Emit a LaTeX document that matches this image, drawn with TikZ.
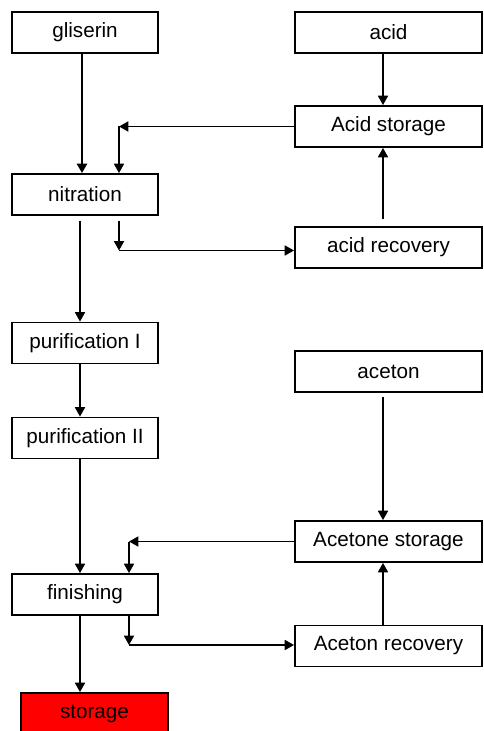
\documentclass[tikz,border=0pt]{standalone}
\usepackage{fontspec}
\setmainfont{Liberation Sans}
\usetikzlibrary{arrows.meta}
\begin{document}
\begin{tikzpicture}[x=0.75pt, y=-0.75pt,
    box/.style={draw, line width=1.4pt, inner sep=0pt,
        minimum width=109.5pt, minimum height=30.75pt,
        font=\fontsize{15.5}{18}\selectfont},
    wide/.style={minimum width=140.25pt},
    flow/.style={line width=1.2pt, -{Triangle[length=7pt, width=7.5pt]}}]
    \useasboundingbox (0,0) rectangle (483,731);
    % left column
    \node[box] (gliserin) at (85,32.5) {gliserin};
    \node[box] (nitration) at (85,194.5) {nitration};
    \node[box] (puri) at (85,343) {purification I};
    \node[box] (purii) at (85,438) {purification II};
    \node[box] (finishing) at (85,594.5) {finishing};
    \node[box, fill=red, minimum width=110.25pt] (storage) at (94.5,713.5) {storage};
    % right column
    \node[box, wide] (acid) at (388.5,32.5) {acid};
    \node[box, wide] (acidst) at (388.5,126.5) {Acid storage};
    \node[box, wide] (acidrec) at (388.5,247.5) {acid recovery};
    \node[box, wide] (aceton) at (388.5,371.5) {aceton};
    \node[box, wide] (acetst) at (388.5,541.5) {Acetone storage};
    \node[box, wide] (acetrec) at (388.5,646) {Aceton recovery};
    % helper points
    \coordinate (xg) at (82,0);
    \coordinate (xl) at (80,0);
    \coordinate (xr) at (383,0);
    \coordinate (acidin) at (119,126.5);
    \coordinate (acidout) at (119,250.5);
    \coordinate (acetin) at (129,541.5);
    \coordinate (acetout) at (129,645);
    % acid loop
    \draw[flow, line width=1.8pt] (gliserin.south -| xg) -- (nitration.north -| xg);
    \draw[flow] (acid.south -| xr) -- (acidst.north -| xr);
    \draw[flow] (acidst.west) -- (acidin);
    \draw[flow] (acidin) -- (acidin |- nitration.north);
    \draw[flow, shorten <=3.5pt] (nitration.south -| acidout) -- (acidout);
    \draw[flow] (acidout) -- (acidout -| acidrec.west);
    \draw[flow, shorten <=5pt] (acidrec.north -| xr) -- (acidst.south -| xr);
    % main line
    \draw[flow, shorten <=3.5pt] (nitration.south -| xl) -- (puri.north -| xl);
    \draw[flow] (puri.south -| xl) -- (purii.north -| xl);
    \draw[flow] (purii.south -| xl) -- (finishing.north -| xl);
    \draw[flow] (finishing.south -| xl) -- (storage.north -| xl);
    % aceton loop
    \draw[flow, shorten <=3pt] (aceton.south -| xr) -- (acetst.north -| xr);
    \draw[flow] (acetst.west) -- (acetin);
    \draw[flow] (acetin) -- (acetin |- finishing.north);
    \draw[flow] (finishing.south -| acetout) -- (acetout);
    \draw[flow] (acetout) -- (acetout -| acetrec.west);
    \draw[flow] (acetrec.north -| xr) -- (acetst.south -| xr);
\end{tikzpicture}
\end{document}
